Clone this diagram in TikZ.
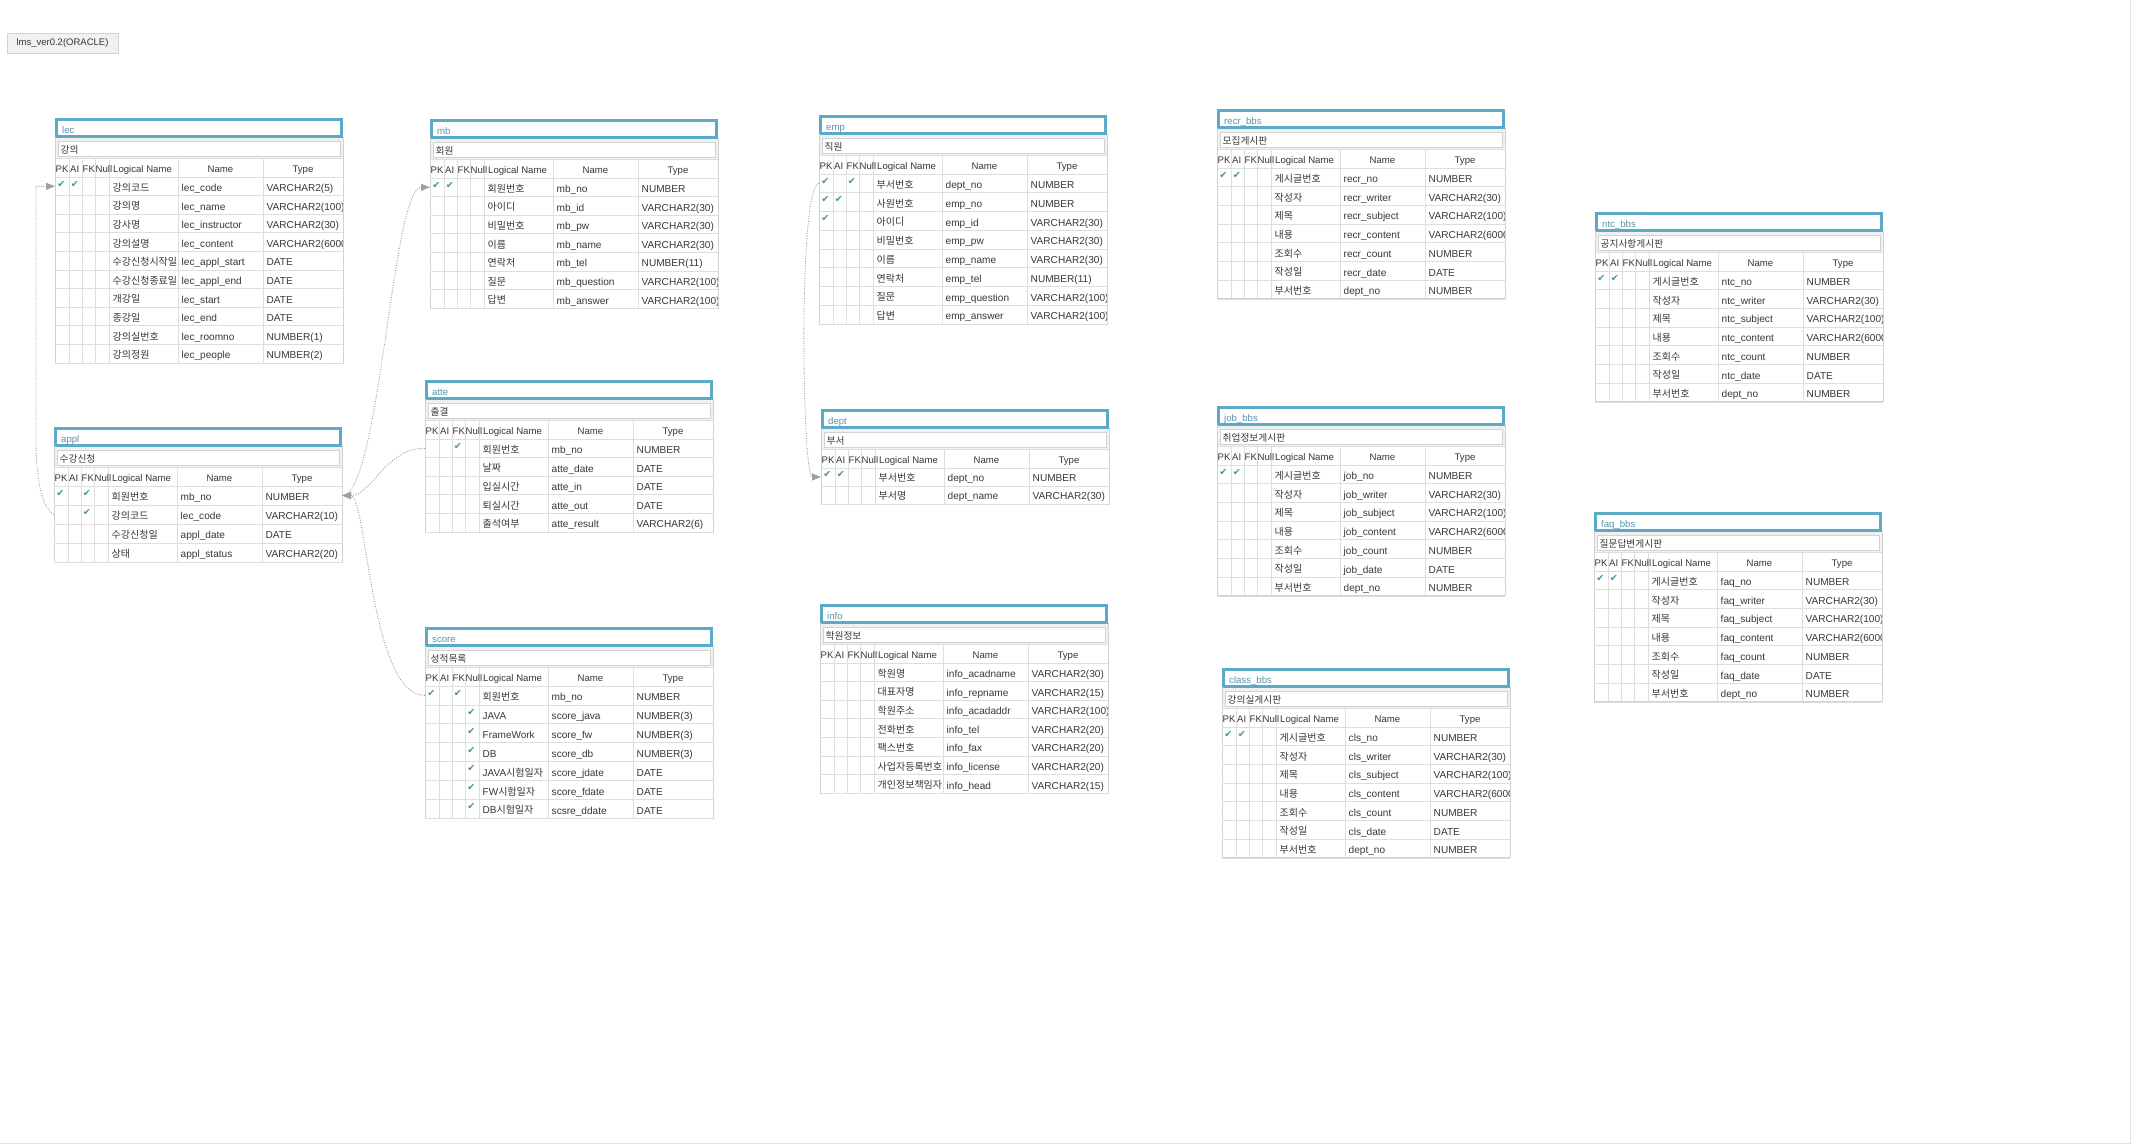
\documentclass[tikz,border=0pt]{standalone}
\usepackage{fontspec}
\setmainfont{Liberation Sans}
\newfontfamily\krf{Noto Sans CJK KR}
\newfontfamily\djf{DejaVu Sans}
\usetikzlibrary{arrows.meta}
\definecolor{tblue}{RGB}{92,170,200}
\definecolor{ttext}{RGB}{88,148,172}
\definecolor{ckc}{RGB}{74,144,164}
\definecolor{gridc}{RGB}{222,222,222}
\definecolor{bandc}{RGB}{241,241,241}
\definecolor{txtc}{RGB}{55,55,55}
\definecolor{relc}{RGB}{160,160,160}
\definecolor{framec}{RGB}{210,210,210}
\definecolor{edgec}{RGB}{225,225,225}
\tikzset{
  grid line/.style={draw=gridc, line width=0.8pt},
  frame line/.style={draw=framec, line width=1pt},
  title bar/.style={draw=tblue, line width=2.8pt, fill=white},
  title text/.style={anchor=base west, inner sep=0pt, text=ttext, font=\fontsize{9.6}{11}\selectfont},
  comment box/.style={draw=framec, line width=0.8pt, fill=white},
  comment text/.style={anchor=base west, inner sep=0pt, text=txtc, font=\krf\fontsize{9.7}{11}\selectfont},
  head text/.style={anchor=base west, inner sep=0pt, text=txtc, font=\fontsize{9.6}{11}\selectfont},
  head center/.style={anchor=base, inner sep=0pt, text=txtc, font=\fontsize{9.6}{11}\selectfont},
  cell text/.style={anchor=base west, inner sep=0pt, text=txtc, font=\fontsize{10.1}{12}\selectfont},
  logic text/.style={anchor=base west, inner sep=0pt, text=txtc, font=\krf\fontsize{10}{12}\selectfont},
  check mark/.style={anchor=base, inner sep=0pt, text=ckc, font=\djf\fontsize{9.6}{11}\selectfont},
  relation/.style={draw=relc, line width=0.9pt, dash pattern=on 1pt off 1.5pt},
  ref tip/.style={-{Triangle[length=9pt,width=7pt,fill=relc]}},
  label box/.style={draw=framec, fill=bandc, minimum width=111pt, minimum height=20pt, inner sep=0pt, text=txtc, font=\fontsize{9.5}{11}\selectfont},
  canvas edge/.style={draw=edgec, line width=1pt}
}
\newcommand\lat[1]{{\rmfamily #1}}
\def\erH{18.7}
\newcommand\ckmark[3]{\if#1y\node[check mark] (\erI-\erR-#3) at (\erX+#2,\erYb-8.6) {✔};\fi}
\newcommand\etable[6]{%
  \def\erI{#1}\def\erX{#2}\def\erT{#3}%
  \pgfmathsetmacro\erB{#3+59+#4*\erH}%
  \fill[white] (#2,#3) rectangle (#2+288,\erB);
  \fill[bandc] (#2,#3+20) rectangle (#2+288,#3+40);
  \draw[comment box] (#2+3,#3+23.5) rectangle (#2+285,#3+38.5);
  \node[comment text] (#1-cmt) at (#2+5.5,#3+35.2) {#6};
  \draw[title bar] (#2+1.4,#3+1.4) rectangle (#2+286.6,#3+18.6);
  \node[title text] (#1-title) at (#2+7,#3+15.8) {#5};
  \draw[grid line] (#2,#3+40) -- ++(288,0) (#2,#3+59) -- ++(288,0);
  \foreach \colx in {14,27,40,54,123,208} {\draw[grid line] (#2+\colx,#3+40) -- (#2+\colx,\erB);}
  \draw[frame line] (#2,#3+19) -- (#2,\erB) -- (#2+288,\erB) -- (#2+288,#3+19);
  \node[head text] (#1-hpk) at (#2+0.5,#3+54) {PK};
  \node[head text] (#1-hai) at (#2+15,#3+54) {AI};
  \node[head text] (#1-hfk) at (#2+27.5,#3+54) {FK};
  \node[head text] (#1-hnl) at (#2+40.5,#3+54) {Null};
  \node[head text] (#1-hln) at (#2+58,#3+54) {Logical Name};
  \node[head center] (#1-hnm) at (#2+165.5,#3+54) {Name};
  \node[head center] (#1-hty) at (#2+248,#3+54) {Type};
}
\newcommand\erow[8]{%
  \edef\erR{#1}%
  \pgfmathsetmacro\erYa{\erT+59+(#1-1)*\erH}%
  \pgfmathsetmacro\erYb{\erYa+\erH}%
  \pgfmathsetmacro\erYm{\erYa+\erH/2}%
  \draw[grid line] (\erX,\erYb) -- ++(288,0);
  \coordinate (\erI-#1-w) at (\erX,\erYm);
  \coordinate (\erI-#1-e) at (\erX+288,\erYm);
  \ckmark{#2}{6.5}{pk}\ckmark{#3}{20}{ai}\ckmark{#4}{33}{fk}\ckmark{#5}{46.5}{nl}%
  \begin{scope}\clip (\erX+54,\erYa) rectangle (\erX+122.5,\erYb);
    \node[logic text] (\erI-#1-ln) at (\erX+57.5,\erYb-4.4) {#6};\end{scope}
  \begin{scope}\clip (\erX+123,\erYa) rectangle (\erX+207.5,\erYb);
    \node[cell text] (\erI-#1-nm) at (\erX+126.5,\erYb-4.2) {#7};\end{scope}
  \begin{scope}\clip (\erX+208,\erYa) rectangle (\erX+287.5,\erYb);
    \node[cell text] (\erI-#1-ty) at (\erX+211.5,\erYb-4.2) {#8};\end{scope}
}
\catcode`\_=12
\newcommand\bbsrows[1]{%
  \erow{1}{y}{y}{-}{-}{게시글번호}{#1_no}{NUMBER}
  \erow{2}{-}{-}{-}{-}{작성자}{#1_writer}{VARCHAR2(30)}
  \erow{3}{-}{-}{-}{-}{제목}{#1_subject}{VARCHAR2(100)}
  \erow{4}{-}{-}{-}{-}{내용}{#1_content}{VARCHAR2(6000)}
  \erow{5}{-}{-}{-}{-}{조회수}{#1_count}{NUMBER}
  \erow{6}{-}{-}{-}{-}{작성일}{#1_date}{DATE}
  \erow{7}{-}{-}{-}{-}{부서번호}{dept_no}{NUMBER}
}
\begin{document}
\begin{tikzpicture}[x=1pt,y=-1pt]
\useasboundingbox (0,0) rectangle (2133,1145);
\fill[white] (0,0) rectangle (2133,1145);
\draw[canvas edge] (2130.5,0) -- (2130.5,1143.5) -- (0,1143.5);
\node[label box] (model) at (62.5,43) {lms_ver0.2(ORACLE)};

% lec
\def\erH{18.6}
\etable{lec}{55}{118}{10}{lec}{강의}
\erow{1}{y}{y}{-}{-}{강의코드}{lec_code}{VARCHAR2(5)}
\erow{2}{-}{-}{-}{-}{강의명}{lec_name}{VARCHAR2(100)}
\erow{3}{-}{-}{-}{-}{강사명}{lec_instructor}{VARCHAR2(30)}
\erow{4}{-}{-}{-}{-}{강의설명}{lec_content}{VARCHAR2(6000)}
\erow{5}{-}{-}{-}{-}{수강신청시작일}{lec_appl_start}{DATE}
\erow{6}{-}{-}{-}{-}{수강신청종료일}{lec_appl_end}{DATE}
\erow{7}{-}{-}{-}{-}{개강일}{lec_start}{DATE}
\erow{8}{-}{-}{-}{-}{종강일}{lec_end}{DATE}
\erow{9}{-}{-}{-}{-}{강의실번호}{lec_roomno}{NUMBER(1)}
\erow{10}{-}{-}{-}{-}{강의정원}{lec_people}{NUMBER(2)}

% appl
\def\erH{19}
\etable{appl}{54}{427}{4}{appl}{수강신청}
\erow{1}{y}{-}{y}{-}{회원번호}{mb_no}{NUMBER}
\erow{2}{-}{-}{y}{-}{강의코드}{lec_code}{VARCHAR2(10)}
\erow{3}{-}{-}{-}{-}{수강신청일}{appl_date}{DATE}
\erow{4}{-}{-}{-}{-}{상태}{appl_status}{VARCHAR2(20)}

% mb
\def\erH{18.6}
\etable{mb}{430}{119}{7}{mb}{회원}
\erow{1}{y}{y}{-}{-}{회원번호}{mb_no}{NUMBER}
\erow{2}{-}{-}{-}{-}{아이디}{mb_id}{VARCHAR2(30)}
\erow{3}{-}{-}{-}{-}{비밀번호}{mb_pw}{VARCHAR2(30)}
\erow{4}{-}{-}{-}{-}{이름}{mb_name}{VARCHAR2(30)}
\erow{5}{-}{-}{-}{-}{연락처}{mb_tel}{NUMBER(11)}
\erow{6}{-}{-}{-}{-}{질문}{mb_question}{VARCHAR2(100)}
\erow{7}{-}{-}{-}{-}{답변}{mb_answer}{VARCHAR2(100)}

% atte
\etable{atte}{425}{380}{5}{atte}{출결}
\erow{1}{-}{-}{y}{-}{회원번호}{mb_no}{NUMBER}
\erow{2}{-}{-}{-}{-}{날짜}{atte_date}{DATE}
\erow{3}{-}{-}{-}{-}{입실시간}{atte_in}{DATE}
\erow{4}{-}{-}{-}{-}{퇴실시간}{atte_out}{DATE}
\erow{5}{-}{-}{-}{-}{출석여부}{atte_result}{VARCHAR2(6)}

% score
\def\erH{18.9}
\etable{score}{425}{627}{7}{score}{성적목록}
\erow{1}{y}{-}{y}{-}{회원번호}{mb_no}{NUMBER}
\erow{2}{-}{-}{-}{y}{\lat{JAVA}}{score_java}{NUMBER(3)}
\erow{3}{-}{-}{-}{y}{\lat{FrameWork}}{score_fw}{NUMBER(3)}
\erow{4}{-}{-}{-}{y}{\lat{DB}}{score_db}{NUMBER(3)}
\erow{5}{-}{-}{-}{y}{\lat{JAVA}시험일자}{score_jdate}{DATE}
\erow{6}{-}{-}{-}{y}{\lat{FW}시험일자}{score_fdate}{DATE}
\erow{7}{-}{-}{-}{y}{\lat{DB}시험일자}{scsre_ddate}{DATE}

% emp
\def\erH{18.75}
\etable{emp}{819}{115}{8}{emp}{직원}
\erow{1}{y}{-}{y}{-}{부서번호}{dept_no}{NUMBER}
\erow{2}{y}{y}{-}{-}{사원번호}{emp_no}{NUMBER}
\erow{3}{y}{-}{-}{-}{아이디}{emp_id}{VARCHAR2(30)}
\erow{4}{-}{-}{-}{-}{비밀번호}{emp_pw}{VARCHAR2(30)}
\erow{5}{-}{-}{-}{-}{이름}{emp_name}{VARCHAR2(30)}
\erow{6}{-}{-}{-}{-}{연락처}{emp_tel}{NUMBER(11)}
\erow{7}{-}{-}{-}{-}{질문}{emp_question}{VARCHAR2(100)}
\erow{8}{-}{-}{-}{-}{답변}{emp_answer}{VARCHAR2(100)}

% dept
\def\erH{18}
\etable{dept}{821}{409}{2}{dept}{부서}
\erow{1}{y}{y}{-}{-}{부서번호}{dept_no}{NUMBER}
\erow{2}{-}{-}{-}{-}{부서명}{dept_name}{VARCHAR2(30)}

% info
\def\erH{18.6}
\etable{info}{820}{604}{7}{info}{학원정보}
\erow{1}{-}{-}{-}{-}{학원명}{info_acadname}{VARCHAR2(30)}
\erow{2}{-}{-}{-}{-}{대표자명}{info_repname}{VARCHAR2(15)}
\erow{3}{-}{-}{-}{-}{학원주소}{info_acadaddr}{VARCHAR2(100)}
\erow{4}{-}{-}{-}{-}{전화번호}{info_tel}{VARCHAR2(20)}
\erow{5}{-}{-}{-}{-}{팩스번호}{info_fax}{VARCHAR2(20)}
\erow{6}{-}{-}{-}{-}{사업자등록번호}{info_license}{VARCHAR2(20)}
\erow{7}{-}{-}{-}{-}{개인정보책임자}{info_head}{VARCHAR2(15)}

% boards
\def\erH{18.7}
\etable{recr}{1217}{109}{7}{recr_bbs}{모집게시판}
\bbsrows{recr}
\etable{job}{1217}{406}{7}{job_bbs}{취업정보게시판}
\bbsrows{job}
\etable{cls}{1222}{668}{7}{class_bbs}{강의실게시판}
\bbsrows{cls}
\etable{ntc}{1595}{212}{7}{ntc_bbs}{공지사항게시판}
\bbsrows{ntc}
\etable{faq}{1594}{512}{7}{faq_bbs}{질문답변게시판}
\bbsrows{faq}

% relations
\coordinate (lecbend) at (36,440);
\draw[relation, ref tip] (appl-2-w) .. controls (42,508) and (36,480) .. (lecbend) |- (lec-1-w);
\draw[relation, ref tip] (appl-1-e) .. controls +(38,0) and +(-38,0) .. (mb-1-w);
\draw[relation, ref tip] (atte-1-w) .. controls +(-40,0) and +(30,0) .. (appl-1-e);
\draw[relation, ref tip] (score-1-w) .. controls +(-55,0) and +(25,0) .. (appl-1-e);
\draw[relation, ref tip] (emp-1-w) .. controls (798,184) and (802,477) .. (dept-1-w);
\end{tikzpicture}
\end{document}
